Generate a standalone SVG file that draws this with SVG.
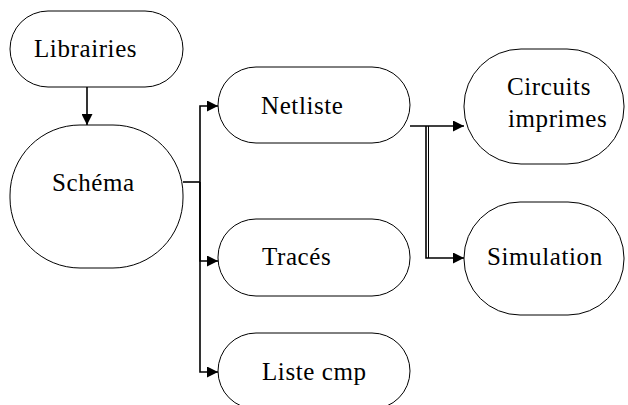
<svg xmlns="http://www.w3.org/2000/svg" width="628" height="405" viewBox="0 0 628 405">
<style>
.n{fill:#fff;stroke:#000;stroke-width:1}
.t{font-family:"Liberation Serif","Times New Roman",serif;font-size:25px;fill:#000;letter-spacing:0.6px}
.c{fill:none;stroke:#000;stroke-width:1.6}
</style>
<defs>
<marker id="a" viewBox="0 0 10 10" refX="10" refY="5" markerWidth="11" markerHeight="11" markerUnits="userSpaceOnUse" orient="auto">
<path d="M0,0 L10,5 L0,10 Z" fill="#000"/>
</marker>
</defs>
<rect width="628" height="405" fill="#fff"/>
<g id="connectors">
<line class="c" x1="87" y1="87" x2="87" y2="125" marker-end="url(#a)"/>
<polyline class="c" points="183,182 200,182"/>
<polyline class="c" points="200,182 200,106 218,106" marker-end="url(#a)"/>
<polyline class="c" points="200,182 200,261 218,261" marker-end="url(#a)"/>
<polyline class="c" points="200,182 200,372 218,372" marker-end="url(#a)"/>
<polyline class="c" points="410,126 464,126" marker-end="url(#a)"/>
<polyline class="c" points="426,126 426,258 464,258" marker-end="url(#a)"/>
<line stroke="#000" stroke-width="1" x1="428.5" y1="126" x2="428.5" y2="258"/>
</g>
<g id="librairies">
<rect class="n" x="10" y="11" width="173" height="76" rx="38"/>
<text class="t" x="34" y="57">Librairies</text>
</g>
<g id="schema">
<rect class="n" x="10" y="125" width="173" height="143" rx="70"/>
<text class="t" x="52" y="191">Schéma</text>
</g>
<g id="netliste">
<rect class="n" x="218" y="67" width="192" height="76" rx="38"/>
<text class="t" x="261" y="114">Netliste</text>
</g>
<g id="traces">
<rect class="n" x="218" y="219" width="192" height="77" rx="38"/>
<text class="t" x="262" y="265">Tracés</text>
</g>
<g id="listecmp">
<rect class="n" x="218" y="333" width="192" height="76" rx="38"/>
<text class="t" x="262" y="380">Liste cmp</text>
</g>
<g id="circuits">
<rect class="n" x="464" y="49" width="160" height="115" rx="57"/>
<text class="t" x="507" y="95">Circuits</text>
<text class="t" x="508" y="127">imprimes</text>
</g>
<g id="simulation">
<rect class="n" x="464" y="202" width="160" height="113" rx="56"/>
<text class="t" x="487" y="265">Simulation</text>
</g>
</svg>
